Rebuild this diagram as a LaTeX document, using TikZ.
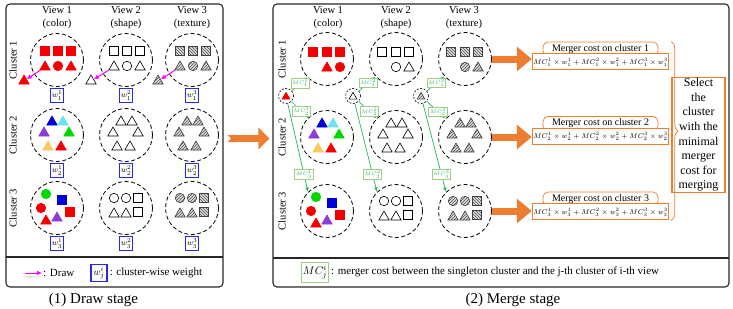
\documentclass[tikz,border=0pt]{standalone}
\usepackage{amsmath,amssymb}
\usepackage{fontspec}
\setmainfont{Liberation Serif}
\usepackage{tikz}
\usetikzlibrary{arrows.meta,positioning,shapes.geometric,patterns,decorations.pathreplacing,calc}
\definecolor{mgorange}{RGB}{237,125,49}
\definecolor{mcgreen}{RGB}{160,205,130}
\definecolor{argreen}{RGB}{30,180,90}
\definecolor{wblue}{RGB}{40,40,235}
\definecolor{drpink}{RGB}{255,0,255}
\definecolor{sred}{RGB}{245,0,0}
\definecolor{tblue}{RGB}{0,0,220}
\definecolor{tcyan}{RGB}{110,225,240}
\definecolor{tpurple}{RGB}{140,60,215}
\definecolor{tgreen}{RGB}{0,215,0}
\definecolor{tyellow}{RGB}{250,200,95}

\begin{document}
\begin{tikzpicture}[x=1pt,y=-1pt,>=Latex,every node/.style={font=\fontsize{10.5}{13}\selectfont}]
\tikzstyle{panel}=[draw=black!85,line width=1.1pt,rounded corners=4pt,inner sep=0pt]
\tikzstyle{clu}=[draw,circle,dashed,dash pattern=on 4pt off 2.5pt,line width=0.8pt,minimum size=53pt,inner sep=0pt]
\tikzstyle{single}=[draw,circle,dash pattern=on 2pt off 1.5pt,line width=0.6pt,minimum size=15pt,inner sep=0pt]
\tikzstyle{sq}=[rectangle,minimum size=8.5pt,inner sep=0pt,line width=0.6pt]
\tikzstyle{ci}=[circle,minimum size=9.5pt,inner sep=0pt,line width=0.6pt]
\tikzstyle{tr}=[regular polygon,regular polygon sides=3,minimum size=12pt,inner sep=0pt,line width=0.6pt]
\tikzstyle{rd}=[draw=sred,fill=sred]
\tikzstyle{ol}=[draw=black,fill=white]
\tikzstyle{ha}=[draw=black!75,preaction={fill=black!12},pattern=north east lines,pattern color=black!70]
\tikzstyle{hb}=[draw=black!75,preaction={fill=black!12},pattern=north west lines,pattern color=black!70]
\tikzstyle{wbox}=[draw=wblue,line width=1.1pt,fill=white,minimum width=12pt,minimum height=14pt,inner sep=1pt,font=\fontsize{8}{9}\selectfont]
\tikzstyle{mcl}=[draw=mcgreen,line width=0.8pt,fill=white,inner sep=1pt,font=\fontsize{5.5}{6}\selectfont]
\tikzstyle{parrow}=[drpink,line width=1pt,-{Latex[length=5pt,width=5pt]}]
\tikzstyle{garrow}=[argreen,line width=0.7pt,-{Latex[length=4.5pt,width=3.5pt]}]
\tikzstyle{bigarrow}=[mgorange,line width=7pt,-{Triangle[length=15pt,width=24pt]}]
\tikzstyle{panelarrow}=[mgorange,line width=7pt,{Triangle Cap[reversed]}-{Triangle[length=11pt,width=21pt]}]
\tikzstyle{mtitle}=[draw=mgorange,line width=0.7pt,rounded corners=5pt,fill=white,minimum width=115pt,minimum height=14pt,inner sep=1pt,font=\fontsize{10}{11}\selectfont]
\tikzstyle{fbox}=[draw=mgorange,line width=1.1pt,fill=white,minimum width=131pt,minimum height=16pt,inner sep=1pt,font=\fontsize{7.5}{9}\selectfont]
\tikzstyle{selbox}=[draw=mgorange,line width=1.1pt,minimum width=53pt,minimum height=114pt,align=center,inner sep=1pt,font=\fontsize{12}{14.6}\selectfont]
\tikzstyle{stagecap}=[font=\fontsize{15}{17}\selectfont]
\useasboundingbox (0,0) rectangle (733,308);

\node[panel,minimum width=217pt,minimum height=283pt] (drawp) at (114.5,145.5) {};
\node[panel,minimum width=456pt,minimum height=283pt] (mergp) at (501,145.5) {};
\draw[panel] (6,257) -- (223,257);
\draw[panel] (273,258) -- (729,258);
\draw[panelarrow] ([shift={(4,-7)}]drawp.east) -- ([shift={(-3,-7)}]mergp.west);

\foreach \vw/\xl/\xr/\st in {1/57/328/color,2/126/396/shape,3/192/464/texture}{
  \node[align=center] (lh\vw) at (\xl,17.5) {View \vw\\(\st)};
  \node[align=center] (rh\vw) at (\xr,17.5) {View \vw\\(\st)};
}
\foreach \cl/\yl/\yr in {1/60/59,2/135/137,3/208/211}{
  \node[rotate=90] (lk\cl) at (13,\yl) {Cluster \cl};
  \node[rotate=90] (rk\cl) at (282,\yr) {Cluster \cl};
}
\foreach \vw/\xl/\xr in {1/57/327,2/126/396,3/192/465}{
  \foreach \cl/\yl/\yr in {1/60/59,2/135/137,3/208/211}{
    \node[clu] (lc\cl\vw) at (\xl,\yl) {};
    \node[clu] (rc\cl\vw) at (\xr,\yr) {};
    \node[wbox,below=1pt of lc\cl\vw] (w\cl\vw) {$w_\cl^\vw$};
  }
}

\foreach \vw/\st/\hs in {1/rd/rd,2/ol/ol,3/ha/hb}{
  \foreach \dx [count=\kk] in {-12,1,14}
    \node[sq,\hs] (lq\vw\kk) at ($(lc1\vw)+(\dx,-9)$) {};
  \node[tr,\st] (lb\vw) at ($(lc1\vw)+(-12,7)$) {};
  \node[ci,\st] (lo\vw) at ($(lc1\vw)+(1,6)$) {};
  \node[tr,\st] (lr\vw) at ($(lc1\vw)+(14,7)$) {};
  \foreach \dx [count=\kk] in {-14,0,13}
    \node[sq,\hs] (rq\vw\kk) at ($(rc1\vw)+(\dx,-7)$) {};
}
\node[tr,rd] (rb1) at ($(rc11)+(0,9)$) {};
\node[ci,rd] (ro1) at ($(rc11)+(13,8)$) {};
\node[ci,ol] (ro2) at ($(rc12)+(0,8)$) {};
\node[tr,ol] (rb2) at ($(rc12)+(13,9)$) {};
\node[ci,ha] (ro3) at ($(rc13)+(0,8)$) {};
\node[tr,ha] (rb3) at ($(rc13)+(13,9)$) {};

\foreach \pp in {l,r}{
  \foreach \dx/\dy/\cc [count=\kk] in {-5/-13/tblue,6/-13/tcyan,-13/-2/tpurple,12/-2/tgreen,-9/12/tyellow,4/12/sred}{
    \node[tr,draw=\cc,fill=\cc] (\pp a1\kk) at ($(\pp c21)+(\dx,\dy)$) {};
    \node[tr,ol] (\pp a2\kk) at ($(\pp c22)+(\dx,\dy)$) {};
    \node[tr,ha] (\pp a3\kk) at ($(\pp c23)+(\dx,\dy)$) {};
  }
  \foreach \dx/\dy/\sh/\cc [count=\kk] in {-11/-14/ci/tgreen,5/-8/sq/tblue,-16/0/ci/sred,13/4/sq/sred,-11/13/tr/sred,0/10/tr/tpurple}
    \node[\sh,draw=\cc,fill=\cc] (\pp b1\kk) at ($(\pp c31)+(\dx,\dy)$) {};
  \foreach \dx/\dy/\sh/\hs [count=\kk] in {-12/-10/ci/ha,0/-10/ci/ha,12/-10/sq/hb,-12/6/tr/ha,0/6/tr/ha,12/4/sq/hb}{
    \node[\sh,ol] (\pp b2\kk) at ($(\pp c32)+(\dx,\dy)$) {};
    \node[\sh,\hs] (\pp b3\kk) at ($(\pp c33)+(\dx,\dy)$) {};
  }
}

\node[tr,rd] (ls1) at (24,81) {};
\node[tr,ol] (ls2) at (91,81) {};
\node[tr,ha] (ls3) at (158,81) {};
\foreach \vw in {1,2,3}
  \draw[parrow] (lb\vw) -- (ls\vw);

\foreach \vw/\x in {1/286,2/353,3/421}
  \node[single] (rs\vw) at (\x,96) {};
\node[tr,rd,minimum size=9pt] (rt1) at ($(rs1)+(0,0.8)$) {};
\node[tr,ol,minimum size=9pt] (rt2) at ($(rs2)+(0,0.8)$) {};
\node[tr,ha,minimum size=9pt] (rt3) at ($(rs3)+(0,0.8)$) {};
\foreach \vw in {1,2,3}{
  \draw[garrow] (rs\vw) -- node[mcl,pos=.55] (m1\vw) {$MC_1^\vw$} (rc1\vw);
  \draw[garrow] (rs\vw) -- node[mcl,pos=.6] (m2\vw) {$MC_2^\vw$} (rc2\vw);
  \draw[garrow] (rs\vw) -- node[mcl,pos=.8] (m3\vw) {$MC_3^\vw$} (rc3\vw.135);
}

\foreach \cl/\y in {1/49,2/123.5,3/199}{
  \node[mtitle] (t\cl) at (600.5,\y) {Merger cost on cluster \cl};
  \node[fbox,below=-3pt of t\cl] (f\cl) {$MC_\cl^1\times w_\cl^1+MC_\cl^2\times w_\cl^2+MC_\cl^3\times w_\cl^3$};
  \draw[bigarrow] (rc\cl3.east) -- (rc\cl3.east -| f\cl.west);
}
\node[selbox] (sel) at (698.5,135) {Select\\the\\cluster\\with the\\minimal\\merger\\cost for\\merging};
\draw[mgorange,line width=0.7pt,decorate,decoration={brace,amplitude=7pt}] ([xshift=2pt]t1.north -| f1.east) -- ([xshift=2pt]f3.south east);

\coordinate (lgs) at (25,273);
\node[anchor=west,inner sep=1pt,font=\fontsize{11}{12}\selectfont] (lgd) at (42,273) {: Draw};
\draw[parrow] (lgs) -- (lgd);
\node[wbox,minimum width=16pt,minimum height=17pt,font=\fontsize{10}{11}\selectfont] (lgw) at (99,273) {$w_j^i$};
\node[right=1pt of lgw,inner sep=1pt,font=\fontsize{11}{12}\selectfont] (lgwt) {: cluster-wise weight};
\node[mcl,line width=1pt,minimum width=27pt,minimum height=20pt,font=\fontsize{11}{12}\selectfont] (lgm) at (315,272) {$MC_j^i$};
\node[right=1pt of lgm,inner sep=1pt,font=\fontsize{11}{12}\selectfont] (lgmt) {: merger cost between the singleton cluster and the j-th cluster of i-th view};

\node[stagecap] (cap1) at (93.5,300) {(1) Draw stage};
\node[stagecap] (cap2) at (513,300) {(2) Merge stage};
\end{tikzpicture}
\end{document}
